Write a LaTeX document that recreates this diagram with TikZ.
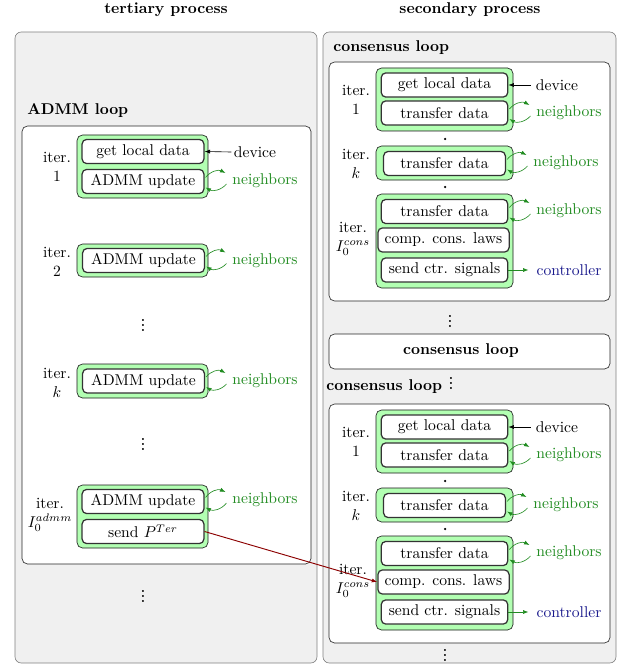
\documentclass[tikz,border=0pt]{standalone}
\usepackage{amsmath}
\usepackage{tikz}
\usetikzlibrary{arrows.meta,calc}
\definecolor{panelgray}{rgb}{0.94, 0.94, 0.94}
\definecolor{nbgreen}{rgb}{0.13, 0.55, 0.13}
\definecolor{ctrblue}{rgb}{0.1, 0.1, 0.55}
\definecolor{sendred}{rgb}{0.55, 0, 0}
\tikzstyle{panel}=[draw=gray, fill=panelgray, rounded corners=4pt]
\tikzstyle{loopbox}=[draw=black!85, fill=white, rounded corners=3.5pt]
\tikzstyle{stepbox}=[draw=black!90, fill=green!30, rounded corners=3.5pt]
\tikzstyle{task}=[draw=black!80, fill=white, thick, rounded corners=3pt, minimum height=15.5pt, inner sep=2pt]
\tikzstyle{lefttask}=[task, minimum width=78pt]
\tikzstyle{righttask}=[task, minimum width=81pt]
\tikzstyle{iter}=[align=center, inner sep=1pt]
\tikzstyle{nb}=[text=nbgreen, inner sep=1pt]
\tikzstyle{more}=[font=\large\bfseries, scale=0.75, inner sep=0pt]
\tikzstyle{tip}=[-{Latex[length=3.5pt,width=2.6pt]}]

\begin{document}
\begin{tikzpicture}[x=0.64pt, y=-0.64pt]
		\useasboundingbox (0,0) rectangle (625,668);

		% the two processes
		\draw[panel] (15,32) rectangle (317,663);
		\draw[panel] (323,32) rectangle (616,663);
		\node[font=\bfseries] (tert) at (166,10) {tertiary process};
		\node[font=\bfseries] (sec) at (470,10) {secondary process};

		% ADMM loop
		\node[font=\bfseries, anchor=west, inner sep=0pt] (admm) at (27,111) {ADMM loop};
		\draw[loopbox] (22,126) rectangle (311,564);

		\draw[stepbox] (77,135) rectangle (208,198);
		\node[lefttask] (l1g) at (143,151.5) {get local data};
		\node[lefttask] (l1u) at (143,181.5) {ADMM update};
		\node[iter] (l1i) at (57,167) {iter.\\1};
		\node[inner sep=1.5pt] (l1d) at (255,152) {device};
		\node[nb] (l1n) at (265,181) {neighbors};

		\draw[stepbox] (77,244) rectangle (208,277);
		\node[lefttask] (l2u) at (143.5,260.5) {ADMM update};
		\node[iter] (l2i) at (57,262) {iter.\\2};
		\node[nb] (l2n) at (265,260.5) {neighbors};

		\node[more] (ld1) at (143,322) {$\vdots$};

		\draw[stepbox] (77,364) rectangle (208,398);
		\node[lefttask] (lku) at (143.5,381) {ADMM update};
		\node[iter] (lki) at (57,383) {iter.\\$k$};
		\node[nb] (lkn) at (265,381) {neighbors};

		\node[more] (ld2) at (143,441) {$\vdots$};

		\draw[stepbox] (77,485) rectangle (208,548);
		\node[lefttask] (l0u) at (143,501.5) {ADMM update};
		\node[lefttask] (l0s) at (143,531.5) {send $P^{Ter}$};
		\node[iter] (l0i) at (50,515) {iter.\\$I_0^{admm}$};
		\node[nb] (l0n) at (265,500) {neighbors};

		\node[more] (ld3) at (143,593) {$\vdots$};

		% consensus loops
		\node[font=\bfseries, anchor=west, inner sep=0pt] (c1) at (333,48) {consensus loop};
		\node[more] (rd1) at (450,318) {$\vdots$};
		\draw[loopbox] (329,334) rectangle (610,369);
		\node[font=\bfseries] (cmid) at (461,351) {consensus loop};
		\node[font=\bfseries, anchor=west, inner sep=0pt] (c2) at (326,387) {consensus loop};
		\node[more] (c2d) at (451,380) {$\vdots$};
		\node[more] (rd2) at (445,652) {$\vdots$};

		\foreach \o/\n in {0/a, 342/b}{
			\begin{scope}[shift={(0,\o)}]
				\draw[loopbox] (329,62) rectangle (610,301);

				\draw[stepbox] (376,68) rectangle (513,131);
				\node[righttask] (\n1g) at (444.5,85) {get local data};
				\node[righttask] (\n1t) at (444.5,113) {transfer data};
				\node[iter] (\n1i) at (356,100) {iter.\\1};
				\node[inner sep=3pt] (\n1d) at (557,85) {device};
				\node[nb] (\n1n) at (569,113) {neighbors};

				\fill (445,139) circle (0.8pt);

				\draw[stepbox] (376,146) rectangle (513,180);
				\node[lefttask] (\n kt) at (444.5,163.5) {transfer data};
				\node[iter] (\n ki) at (356,164) {iter.\\$k$};
				\node[nb] (\n kn) at (566,163) {neighbors};

				\fill (445,187) circle (0.8pt);

				\draw[stepbox] (376,194) rectangle (513,288);
				\node[righttask] (\n0t) at (444.5,211.5) {transfer data};
				\node[task, minimum width=84pt] (\n0c) at (443.5,240) {comp. cons. laws};
				\node[righttask] (\n0s) at (444.5,270) {send ctr. signals};
				\node[iter] (\n0i) at (353,239) {iter.\\$I_0^{cons}$};
				\node[nb] (\n0n) at (569,211) {neighbors};
				\node[text=ctrblue, inner sep=1pt] (\n0r) at (569,270) {controller};

				\draw[black, tip] (\n1d.west) -- (\n1g.east);
				\draw[nbgreen, tip, shorten >=4pt] (\n0s.east) -- (\n0r.west);
			\end{scope}
		}

		\draw[black, tip] (l1d.west) -- (l1g.east);

		% exchange with the neighbors
		\foreach \u/\n in {l1u/l1n, l2u/l2n, lku/lkn, l0u/l0n, a1t/a1n, akt/akn, a0t/a0n, b1t/b1n, bkt/bkn, b0t/b0n}{
			\draw[nbgreen, tip] ($(\u.east)+(1,-4)$) to[bend left=40] ($(\n.west)+(-5,-8)$);
			\draw[nbgreen, tip] ($(\n.west)+(-4,3)$) to[bend left=40] ($(\u.east)+(1,6)$);
		}

		\draw[sendred, semithick, tip] (l0s.east) -- (b0c.west);

\end{tikzpicture}
\end{document}
